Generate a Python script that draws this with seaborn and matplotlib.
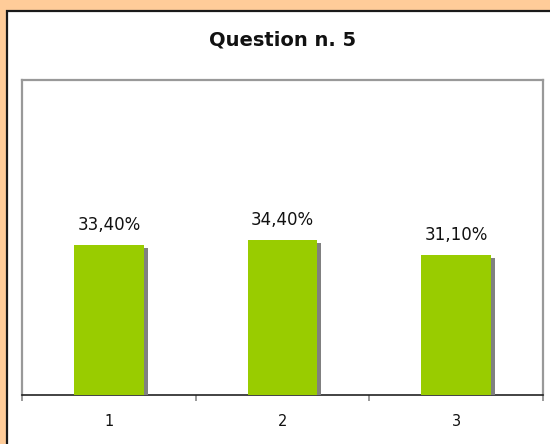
import matplotlib
matplotlib.use("Agg")
import matplotlib.pyplot as plt
import matplotlib.patheffects as pe
from matplotlib.patches import Rectangle
import seaborn as sns
import pandas as pd

# Survey answer shares for question 5
categories = ["1", "2", "3"]
shares = [33.4, 34.4, 31.1]
labels = ["33,40%", "34,40%", "31,10%"]

df = pd.DataFrame({"answer": categories, "share": shares})

sns.set_style("white")
plt.rcParams["font.family"] = ["DejaVu Sans"]

W, H = 550, 444
fig = plt.figure(figsize=(W / 100, H / 100), dpi=100, facecolor="#FFCC99")

# White chart panel with a dark frame, running off the right/bottom edges
panel = Rectangle((7 / W, -0.05), 1.2, (H - 11) / H + 0.05,
                  transform=fig.transFigure, facecolor="white",
                  edgecolor="#1a1a1a", linewidth=1.6, zorder=-5)
fig.patches.append(panel)

left, right, top, bottom = 22, 543, 80, 395
ax = fig.add_axes([left / W, (H - bottom) / H, (right - left) / W, (bottom - top) / H])
ax.set_zorder(5)
ax.set_facecolor("white")

sns.barplot(data=df, x="answer", y="share", color="#99CC00", width=0.4,
            saturation=1, ax=ax, zorder=3)

shadow = [pe.SimplePatchShadow(offset=(3, -2.2), shadow_rgbFace="#808080", alpha=1.0),
          pe.Normal()]
for bar in ax.patches:
    bar.set_edgecolor("none")
    bar.set_path_effects(shadow)

for i, (v, t) in enumerate(zip(shares, labels)):
    ax.annotate(t, (i, v), xytext=(0, 11), textcoords="offset pixels",
                ha="center", va="bottom", fontsize=12, color="#111111")

ax.set_ylim(0, 70)
ax.set_xlim(-0.5, 2.5)
ax.set_yticks([])
ax.set_xlabel("")
ax.set_ylabel("")

# Tick marks at category boundaries, labels centred under each bar
ax.set_xticks([-0.5, 0.5, 1.5, 2.5])
ax.set_xticklabels([])
ax.tick_params(axis="x", which="major", bottom=True, length=4.5, width=1.2,
               color="#888888", direction="out")
ax.set_xticks([0, 1, 2], minor=True)
ax.set_xticklabels(categories, minor=True, fontsize=10.5, color="#111111")
ax.tick_params(axis="x", which="minor", bottom=True, length=0, pad=14)

for s in ["left", "right", "top"]:
    ax.spines[s].set_visible(True)
    ax.spines[s].set_color("#999999")
    ax.spines[s].set_linewidth(1.6)
ax.spines["bottom"].set_color("#222222")
ax.spines["bottom"].set_linewidth(1.2)

fig.text((left + right) / 2 / W, 1 - 40 / H, "Question n. 5", ha="center", va="center",
         fontsize=14, fontweight="bold", color="#111111")

fig.savefig("out.png", dpi=100, facecolor=fig.get_facecolor())
